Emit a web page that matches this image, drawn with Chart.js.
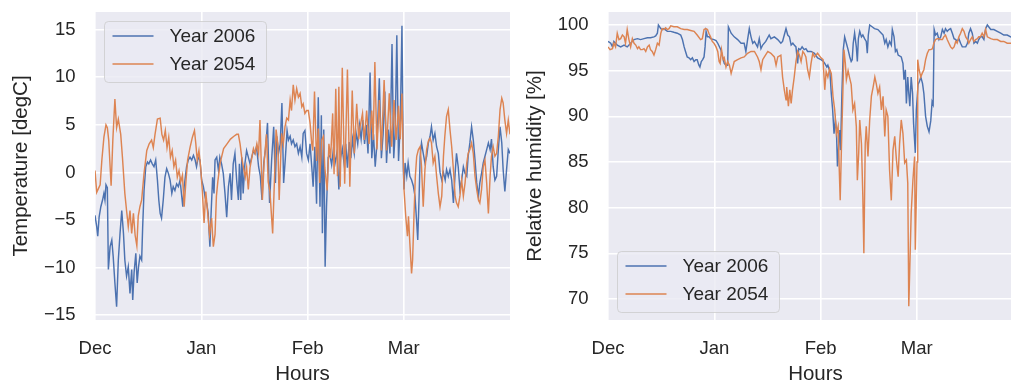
<!DOCTYPE html>
<html>
<head>
<meta charset="utf-8">
<title>Temperature and relative humidity, winter 2006 vs 2054</title>
<script src="https://cdn.jsdelivr.net/npm/chart.js@4.4.1/dist/chart.umd.min.js"></script>
<style>
  html, body { margin: 0; padding: 0; background: #ffffff; }
  body { width: 1011px; height: 385px; overflow: hidden; position: relative; }
  canvas { position: absolute; top: 0; }
  #temp { left: 0; }
  #rh { left: 520px; }
</style>
</head>
<body>
<canvas id="temp" width="520" height="385"></canvas>
<canvas id="rh" width="520" height="385"></canvas>
<script>
// Axis ticks: day offsets from 1 December, and their month labels
const MONTH_DAYS = [0, 31, 62, 90];
const MONTH_LABELS = ['Dec', 'Jan', 'Feb', 'Mar'];
const TEMP_TICKS = [-15, -10, -5, 0, 5, 10, 15];
const RH_TICKS = [70, 75, 80, 85, 90, 95, 100];
const SERIES_LABELS = ['Year 2006', 'Year 2054'];

// Air temperature [degC], [day since 1 Dec, value]
const temp2006 = [
  [0,-4.5],[0.5,-5.7],[0.8,-6.7],[1.2,-4.7],[1.7,-3.6],[2.2,-2.9],[2.6,-2.2],[2.9,-2.9],[3.2,-1.3],[3.6,-1.6],
  [3.9,-10.2],[4.4,-7.8],[4.9,-7.1],[5.3,-8.8],[5.8,-11.6],[6.3,-14.1],[6.8,-9.2],[7.3,-6.4],[7.8,-4],[8.3,-6.4],
  [8.7,-9.2],[9.2,-10.9],[9.7,-9.9],[10.2,-12.7],[10.7,-10.2],[11,-13.4],[11.4,-10.5],[11.9,-8.5],[12.3,-11.6],[12.7,-9.9],
  [13.1,-8.8],[13.6,-9.2],[13.9,-5.7],[14.3,-1.9],[14.8,0.6],[15.3,1.1],[15.7,0.9],[16.2,1.3],[16.7,0.9],[17.2,0.6],
  [17.7,1.3],[18.2,-0.8],[18.6,-2.9],[19,-4.3],[19.4,-4.8],[19.9,-2.9],[20.4,-0.5],[20.9,0.4],[21.4,-0.1],[21.9,-0.8],
  [22.4,-2.2],[22.8,-1.5],[23.3,-1.9],[23.8,-1.2],[24.3,-1.5],[24.8,-0.8],[25.6,-3.6],[26,-1.5],[26.7,0.6],[27.2,1.3],
  [27.7,1.6],[28.2,1.3],[28.7,1.8],[29.2,1.3],[29.6,0.6],[30.1,1.6],[30.6,1.3],[31.1,-0.8],[31.6,-1.5],[32.1,-2.6],
  [32.6,-3.3],[33,-4.3],[33.5,-7.8],[33.8,-4.7],[34.3,-0.5],[34.7,-2.2],[35,1.3],[35.5,1.6],[36,0.2],[36.4,1.6],
  [36.9,0.9],[37.4,-0.1],[37.9,-2.2],[38.4,-4.7],[38.9,-1.5],[39.4,-0.1],[39.8,-2.9],[40.3,0.9],[40.8,2],[41.3,-0.8],
  [41.8,-2.9],[42.1,0.9],[42.5,-2.9],[42.8,1.6],[43.2,-2.2],[43.7,0.9],[44.2,2.3],[44.7,1.6],[45.2,0.9],[45.7,1.6],
  [46.2,2.3],[46.6,2],[47.1,2.7],[47.7,0.6],[48.2,-0.4],[48.7,-2.9],[49.2,1],[49.7,2.4],[50.3,5.2],[50.9,-3.2],
  [51.5,1.3],[52.1,4.8],[52.6,-1.1],[53,3.8],[53.5,2],[54,3],[54.5,7.3],[55,-1.1],[55.5,1.5],[56,4.4],
  [56.4,3.4],[56.9,3.8],[57.3,3],[57.8,3.4],[58.3,2.7],[58.8,3],[59.3,2],[59.8,2.7],[60.3,1.6],[60.7,4.1],
  [61.2,4.4],[61.7,2],[62.2,1.3],[62.7,3],[63.2,0.6],[63.6,-1.5],[64.1,2.7],[64.6,-3.3],[65.1,7.9],[65.6,-3.6],
  [66,6],[66.3,-6.4],[66.7,4.5],[67.1,-9.9],[67.5,-3.6],[68,1.6],[68.5,1.8],[69,0.8],[69.5,2.4],[70,1],
  [70.6,2.2],[71.1,-1.8],[71.6,1.5],[72.1,2.5],[72.6,1],[73.1,3],[73.6,0.5],[74.1,3.2],[74.6,1.5],[75.1,3.5],
  [75.6,2],[76.1,4.2],[76.6,3],[77.1,5],[77.6,3.5],[78.1,5.5],[78.6,3],[79.1,5],[79.6,2],[80.2,10.5],
  [80.7,1.5],[81.2,4],[81.7,0.6],[82.2,3],[82.9,9.9],[83.5,1.5],[84,4],[84.5,8.5],[85,1],[85.5,4.5],
  [86,2],[86.6,13.5],[87.1,1.5],[87.5,4],[88,14.4],[88.5,1.2],[89,5],[89.5,15.4],[89.9,0.5],[90.1,-1.8],
  [90.4,1],[90.9,-0.4],[91.3,1],[91.8,-0.4],[92.3,-0.8],[92.8,-1.4],[93.3,-2.5],[93.8,-5.3],[94.1,-7.1],[94.5,-2.5],
  [94.8,1.7],[95.2,3.1],[95.7,2],[96.2,1],[96.7,1.7],[97.2,3.1],[97.7,3.8],[98.1,4.8],[98.6,3.4],[99.1,4.1],
  [99.6,2.7],[100.1,2],[100.6,0],[101.1,-0.8],[101.6,0],[102.1,-0.8],[102.5,0.3],[103,-0.4],[103.5,0.3],[104,-0.8],
  [104.5,-3.2],[105,-0.1],[105.4,2],[105.9,0.6],[106.4,-1.8],[106.9,-0.8],[107.4,0.6],[107.9,-0.1],[108.4,-0.4],[108.8,1.7],
  [109.3,3.1],[109.8,4.8],[110.3,3.4],[110.8,1.3],[111.3,-1.1],[111.8,-2.5],[112.2,-1.1],[112.7,-0.1],[113.2,1],[113.7,1.7],
  [114.2,2.4],[114.7,3.1],[115.2,2.4],[115.6,3.5],[116.1,0.6],[116.6,-0.8],[117.1,-0.4],[117.6,2.4],[118.1,4.8],[118.6,3.1],
  [119,0.3],[119.5,-2],[120,0.3],[120.5,2.4],[121,2]
];

const temp2054 = [
  [0,0.2],[0.5,-2.1],[1.5,-1.3],[2,1.3],[2.6,3.7],[3.2,5],[3.6,4.7],[4,3.4],[4.7,-1.4],[5.2,3.4],
  [5.8,7.7],[6.3,4.7],[6.8,5.6],[7.5,4],[8,1.6],[8.7,-2.2],[9.2,-4],[9.7,-5.7],[10.2,-4],[10.7,-6.4],
  [11.2,-4.3],[11.7,-6.6],[12.2,-7.7],[12.6,-4.6],[13.1,-3.6],[13.6,-2.9],[14.3,-0.1],[15.1,2.3],[15.8,3],[16.5,3.4],
  [17,2.6],[17.5,4],[18.2,5.6],[19,5.7],[19.5,4],[20,3.4],[20.5,4.4],[21,2.6],[21.5,3.7],[22,1.6],
  [22.5,2.3],[23,0.6],[23.5,1.3],[24,-0.5],[24.5,0.2],[25,-1],[25.5,-0.3],[26,-3.6],[26.5,-1],[27,1.3],
  [27.7,2.6],[28.4,3.7],[29,4.4],[29.4,3],[29.8,1.3],[30.3,2.3],[30.8,0.6],[31.3,-2],[31.8,-5.3],[32.3,-2],
  [32.8,-4],[33.4,-6.5],[34,-4.8],[34.5,-7.8],[35,-6.5],[35.4,-2.5],[35.8,-1],[36.5,1],[37.5,2.5],[38.5,3],
  [39.5,3.5],[40.5,3.8],[41.3,4],[41.8,4],[42.3,3],[42.8,1.5],[43.3,0.5],[43.8,-0.5],[44.2,0.5],[44.7,-1.8],
  [45.2,0.5],[45.7,1.5],[46.2,2.5],[46.7,2],[47.2,3],[47.7,2],[48.1,5.5],[48.8,-2.9],[49.3,1],[50,4],
  [50.5,-1],[51,-2],[51.8,-6.4],[52.3,-1],[52.8,4.5],[53.3,3],[53.7,-2.9],[54.4,4.1],[54.9,3],[55.4,4.8],
  [55.9,5.7],[56.4,5.5],[56.9,7.6],[57.3,6.5],[57.8,9.2],[58.3,7.6],[58.8,8.8],[59.3,7.9],[59.8,8.3],[60.3,6.9],
  [60.7,7.2],[61.2,6.2],[61.7,6.5],[62.2,6.5],[62.7,5.2],[63.2,3],[63.5,2.3],[64,8.5],[64.6,1.2],[65.1,4.6],
  [65.5,-1.1],[66.1,3.4],[66.6,3.8],[67,0.5],[67.7,-1.9],[68.2,3],[68.7,1.5],[69.3,6.2],[69.7,-0.2],[70.2,8.8],
  [70.7,-0.4],[71.1,9],[71.5,-1.5],[72.1,11],[72.8,-1.2],[73.6,10.8],[74.3,-1.5],[75,8.6],[75.6,2],[76.3,7.2],
  [76.9,3.5],[77.3,4.8],[78,6.2],[78.5,3.4],[79.2,6.5],[79.9,3],[80.7,6.5],[81.1,3.4],[81.6,11.6],[82.2,2.4],
  [82.9,7.6],[83.5,2.3],[84.3,9.7],[85,2.3],[85.8,8.3],[86.5,2.7],[87.2,7.6],[87.8,3.4],[88.5,7],[89,3.5],
  [89.5,8.3],[89.8,3],[90.1,-1.8],[90.6,-4.6],[91.1,-6.7],[91.4,-4.6],[91.8,-7.4],[92.3,-10.6],[92.6,-9.2],[93,-4.6],
  [93.4,-0.4],[93.8,1.7],[94.3,2.4],[94.8,2.7],[95.2,0.6],[95.7,-3.6],[96.2,0.3],[96.7,2.4],[97.2,3.3],[97.7,3.6],
  [98.1,3.1],[98.6,1],[99.1,1.7],[99.6,-0.4],[100.1,-2.2],[100.6,-3.6],[101.1,-2.5],[101.6,1.7],[102,3.8],[102.5,5.9],
  [103,6.6],[103.5,4.5],[104,2.7],[104.5,0.3],[105,-2.5],[105.4,-3.2],[105.9,-3.6],[106.4,-2.5],[106.9,-0.8],[107.4,-2.5],
  [107.9,-1.1],[108.4,1],[108.8,2],[109.3,2.4],[109.8,3.1],[110.3,2],[110.8,-0.4],[111.3,-1.8],[111.8,-2.9],[112.2,-3.2],
  [112.7,-1.8],[113.2,0.6],[113.7,1.3],[114.2,-1.1],[114.7,-4.3],[115.2,-0.4],[115.6,1.7],[116.1,2.7],[116.6,1.7],[117.1,2],
  [117.6,3.8],[118.1,6.6],[118.6,7.8],[119,7.3],[119.5,5.5],[120,4.1],[120.5,5.5],[121,4]
];

// Relative humidity [%], [day since 1 Dec, value]
const rh2006 = [
  [0,98.2],[0.8,98],[1.3,97.6],[1.7,98.2],[2.7,97.8],[3.7,97.6],[4.7,97.8],[5.6,97.6],[6.6,98],[7.6,98.4],
  [8.6,98.5],[9.5,98.4],[10.5,98.5],[11.5,98.6],[12.4,98.6],[13.4,98.7],[13.9,98.8],[14.4,99.1],[14.7,100],[15.4,99.6],
  [15.9,99.5],[16.3,99.6],[17.3,99.3],[18.3,99.3],[19.2,99.2],[20.2,99.1],[21.2,98.9],[21.7,98.4],[22.2,97.6],[22.6,97.1],
  [23.1,96.5],[23.6,96.4],[24.1,96.2],[24.6,96.4],[25.1,96],[25.6,96.2],[26,96.2],[26.5,95.6],[26.8,95.4],[27.2,96],
  [27.6,96.2],[28,96.5],[28.3,97.6],[28.6,99.3],[29,98.7],[29.5,98.7],[29.9,98.5],[30.9,98.4],[31.5,98.3],[32,98],
  [32.9,97.3],[33.4,96.5],[33.9,95.8],[34.4,95.6],[34.9,95.6],[35.1,99.8],[35.9,99.1],[36.8,98.7],[37.8,98.4],[38.8,98],
  [39.7,98],[40.2,97.1],[40.7,98.4],[41.2,99.6],[41.7,98.7],[42.2,98],[42.7,98.2],[43.6,97.6],[44.1,98.5],[44.6,97.4],
  [45.1,97.8],[46,98.2],[47,98.9],[47.5,98.5],[48.5,98.7],[49.5,98.4],[50.4,98],[50.9,98.2],[51.4,98.9],[51.9,99.6],
  [52.4,98.9],[52.9,98.7],[53.4,97.8],[53.9,98],[54.3,97.8],[54.8,97.6],[55.3,95.8],[55.6,97.4],[56.1,97.3],[56.6,97.6],
  [57.2,97.3],[57.7,97.4],[58.2,97.1],[59.2,97.1],[60.2,96.9],[61.1,96.4],[62.1,96.2],[62.8,96],[63.2,95.8],[63.8,95.4],
  [64.1,95.6],[64.7,94.9],[65.1,92.5],[65.5,90.7],[65.9,88.1],[66.3,89.6],[66.6,88.5],[66.9,84.5],[67.1,85.6],[67.4,88.1],
  [67.6,88.5],[67.8,86.3],[68.2,92.5],[68.6,97.3],[69,98.7],[69.5,98],[70,97.3],[70.5,96.5],[70.9,96],[71.2,96.2],
  [71.5,98],[71.9,99.1],[72.4,97.6],[72.7,96],[73,98.5],[73.4,99.3],[73.9,98.7],[74.3,98.9],[74.8,98.5],[75.3,98.2],
  [75.6,96.9],[75.9,98.9],[76.3,100],[77,99.8],[77.7,99.6],[78.7,99.5],[79.7,99.1],[80.2,98.9],[80.7,98],[81.1,98.4],
  [81.6,97.6],[82.1,98.2],[82.6,97.8],[82.9,99.5],[83.4,98.7],[83.8,97.1],[84.2,97.3],[84.6,96.7],[85.5,96.5],[86,95.8],
  [86.3,94],[86.7,95.1],[87,91.4],[87.4,94.3],[87.7,92.5],[88,91.1],[88.4,94.3],[88.8,92.5],[89.1,89.2],[89.6,86],
  [89.9,90.7],[90.4,93.5],[90.8,93.8],[91.2,94.3],[91.7,93.6],[92.1,92.5],[92.6,90],[93.1,88.9],[93.6,88.3],[94.1,89.5],
  [94.5,91.6],[94.8,91.3],[95.1,99.5],[95.5,98.9],[96,99.1],[96.5,98.4],[97,98.7],[97.5,99.5],[98,99.1],[98.4,99.6],
  [98.9,99.3],[99.4,99.5],[99.9,99.6],[100.4,99.1],[100.9,98.5],[101.4,98.4],[101.8,98.2],[102.3,98.5],[102.8,98],[103.3,97.6],
  [103.8,97.6],[104.3,97.6],[104.8,98],[105.2,99.1],[105.7,99.6],[106.2,99.1],[106.7,98],[107.2,98.2],[107.7,98],[108.1,98.4],
  [108.6,98.7],[109.1,98.7],[109.6,98.4],[110.1,99.6],[110.6,100],[111.6,99.5],[112.5,99.5],[113.5,99.3],[114.5,99.1],[115.4,98.9],
  [116.4,98.9],[117.4,98.7],[118.4,98.5],[119.4,98.6],[120.4,98.4],[121,98.5]
];

const rh2054 = [
  [0,97.6],[0.6,97.3],[1.3,97.4],[1.7,98],[2.2,97.6],[2.7,99.1],[3.2,98.4],[3.7,98.5],[4.2,98.9],[4.7,98.7],
  [5.1,98],[5.6,99.5],[6.1,98.4],[6.6,97.6],[7.1,98.5],[7.6,98],[8.1,97.8],[8.6,97.4],[9,97.6],[9.5,97.3],
  [10,97.3],[10.5,97.4],[11,97.1],[11.5,97.6],[12,97.8],[12.4,97.3],[12.9,97.1],[13.4,96.7],[13.9,97.3],[14.4,98],
  [14.9,97.8],[15.4,99.1],[15.8,99.6],[16.3,99.5],[16.8,99.7],[17.3,99.5],[17.8,99.6],[18.3,99.9],[19.2,99.8],[20.2,99.8],
  [21.2,99.6],[22.2,99.5],[23.1,99.5],[24.1,99.4],[25.1,99.3],[26,98.9],[27,98.4],[27.5,98.5],[28,99.5],[28.5,99.6],
  [29,99.5],[29.4,99.1],[29.9,98.7],[30.4,98.2],[30.9,98],[31.5,97.6],[32,97.1],[32.4,96],[32.7,95.8],[33.1,97.3],
  [33.6,96.2],[33.9,96.4],[34.4,95.4],[34.9,96],[35.4,95.6],[35.9,94.7],[36.4,95.4],[36.8,96],[37.8,96.2],[38.8,96.4],
  [39.7,96.5],[40.7,96.9],[41.7,97.1],[42.7,97.1],[43.6,96.5],[44.1,96],[44.6,95.1],[45.1,96.2],[45.6,96.5],[46.6,97.1],
  [47.5,96.9],[48.5,96.5],[49,95.6],[49.5,96.5],[50.4,96.7],[50.9,94.3],[51.4,92.9],[51.9,91.8],[52.1,93.2],[52.6,91.1],
  [53,92.9],[53.4,91.4],[53.8,92.9],[54.3,94.3],[54.8,96],[55.3,97.1],[55.8,96.7],[56.3,96],[56.8,97.1],[57.2,96.9],
  [57.7,96.5],[58.2,95.1],[58.7,94.3],[59.2,95.8],[59.7,96.9],[60.2,96.5],[61.1,96.9],[62.1,96.4],[62.7,96.2],[63.2,92.9],
  [63.6,94.9],[64.1,94.3],[64.6,95.2],[65.1,94.7],[65.6,92.2],[66.1,90.7],[66.6,88.1],[67.1,88.9],[67.4,84.5],[67.7,80.8],
  [68,85.6],[68.5,93],[68.8,97.3],[69.2,95.8],[69.5,94],[70,95],[70.4,94.3],[70.9,93.5],[71.4,90.7],[71.9,91.4],
  [72.4,88.9],[72.7,83],[73.1,86],[73.4,89.6],[73.9,87],[74.3,81.2],[74.6,75],[75,87],[75.3,88.9],[75.8,85.6],
  [76.3,89.6],[76.8,92.2],[77.3,93.2],[77.8,94.3],[78.2,93.6],[78.7,92.5],[79.2,93.2],[79.7,90.7],[80.2,92.2],[80.7,87.8],
  [81.1,90.7],[81.6,90],[82.1,84.1],[82.6,80.8],[83.1,86.3],[83.6,87.8],[84.1,85.2],[84.6,83.4],[85,86.9],[85.5,89.6],
  [86,88.1],[86.5,84.9],[87,85.2],[87.4,82.7],[87.7,69.2],[88.4,79.4],[88.9,83],[89.4,85.6],[89.6,75.4],[90.1,85],
  [90.3,96.2],[90.7,95.1],[91.2,94.3],[91.6,94.7],[92.1,95.1],[92.6,96.2],[93.1,96.9],[93.6,97.3],[94.1,97.3],[94.6,97.4],
  [95,98],[95.5,98.4],[96,98.5],[96.5,98.5],[97,98.4],[97.5,98.4],[97.9,98.7],[98.4,98.9],[98.9,98.4],[99.4,98],
  [99.9,97.6],[100.4,97.4],[100.9,97.6],[101.4,98.2],[101.8,98],[102.3,98.7],[102.8,99.1],[103.3,99.6],[103.8,99.3],[104.3,98.7],
  [104.8,98.4],[105.2,98],[105.7,98.4],[106.2,98.7],[106.7,98.2],[107.2,98.4],[107.7,98.5],[108.1,98.7],[108.6,98.7],[109.1,99.1],
  [109.6,98.7],[110.1,99.5],[110.6,98.7],[111.6,98.5],[112.5,98.4],[113.5,98.4],[114.5,98.2],[115.4,98.2],[116.4,98],[117.4,98],
  [118.4,98],[119.4,97.9],[120.4,97.9],[121,98]
];

// ---- styling ----
const FONT = '"Liberation Sans", Arial, Helvetica, sans-serif';
const INK = '#262626';
const BLUE = '#4C72B0';
const ORANGE = '#DD8452';
const PANEL = '#EAEAF2';

const toPoints = pairs => pairs.map(([x, y]) => ({ x, y }));
const minusSign = v => (v < 0 ? '\u2212' + Math.abs(v) : String(v));

// grey panel behind the grid
const panelBackground = {
  id: 'panelBackground',
  beforeDraw(chart) {
    const { ctx, chartArea: a } = chart;
    ctx.save();
    ctx.fillStyle = PANEL;
    ctx.fillRect(a.left, a.top, a.right - a.left, a.bottom - a.top);
    ctx.restore();
  }
};

// framed legend drawn inside the plot area
function roundedRect(ctx, x, y, w, h, r) {
  ctx.beginPath();
  ctx.moveTo(x + r, y);
  ctx.lineTo(x + w - r, y);
  ctx.arcTo(x + w, y, x + w, y + r, r);
  ctx.lineTo(x + w, y + h - r);
  ctx.arcTo(x + w, y + h, x + w - r, y + h, r);
  ctx.lineTo(x + r, y + h);
  ctx.arcTo(x, y + h, x, y + h - r, r);
  ctx.lineTo(x, y + r);
  ctx.arcTo(x, y, x + r, y, r);
  ctx.closePath();
}

const framedLegend = {
  id: 'framedLegend',
  afterDatasetsDraw(chart, args, o) {
    const { ctx, chartArea: a } = chart;
    const x = Math.round(a.left + o.inset) + 0.5;
    const y = Math.round(o.corner === 'top' ? a.top + o.inset : a.bottom - o.inset - o.height) + 0.5;
    ctx.save();
    roundedRect(ctx, x, y, o.width, o.height, 4);
    ctx.fillStyle = 'rgba(234,234,242,0.8)';
    ctx.fill();
    ctx.strokeStyle = 'rgba(204,204,204,0.8)';
    ctx.lineWidth = 1;
    ctx.stroke();
    ctx.font = '19px ' + FONT;
    ctx.textBaseline = 'middle';
    ctx.textAlign = 'left';
    chart.data.datasets.forEach((ds, i) => {
      const ly = y + o.firstRow + i * o.rowGap;
      ctx.strokeStyle = ds.borderColor;
      ctx.lineWidth = 1.3;
      ctx.beginPath();
      ctx.moveTo(x + 8, ly);
      ctx.lineTo(x + 49, ly);
      ctx.stroke();
      ctx.fillStyle = INK;
      ctx.fillText(ds.label, x + 65, ly + 1);
    });
    ctx.restore();
  }
};

function buildChart(id, series, yTicks, yMin, yMax, yTitle, opt) {
  return new Chart(document.getElementById(id), {
    type: 'line',
    data: {
      datasets: series.map((s, i) => ({
        label: SERIES_LABELS[i],
        data: toPoints(s),
        borderColor: i === 0 ? BLUE : ORANGE,
        borderWidth: 1.45,
        pointRadius: 0,
        tension: 0,
        order: i === 0 ? 2 : 1
      }))
    },
    options: {
      responsive: false,
      animation: false,
      devicePixelRatio: 1,
      events: [],
      layout: { padding: { top: 12, right: opt.padRight, bottom: 0, left: 0 } },
      scales: {
        x: {
          type: 'linear',
          min: 0,
          max: 121,
          afterBuildTicks: s => { s.ticks = MONTH_DAYS.map(v => ({ value: v })); },
          afterFit: s => { s.height = 65; s.paddingLeft = 0; s.paddingRight = 0; },
          ticks: {
            autoSkip: false,
            maxRotation: 0,
            padding: 17.4,
            color: INK,
            font: { family: FONT, size: 18.5 },
            callback: (v, i) => MONTH_LABELS[i]
          },
          grid: { color: '#ffffff', lineWidth: 1.6, drawTicks: false },
          border: { display: false },
          title: {
            display: true,
            text: 'Hours',
            color: INK,
            font: { family: FONT, size: 20.5, lineHeight: 1 },
            padding: { top: 0, bottom: 0.3 }
          }
        },
        y: {
          type: 'linear',
          min: yMin,
          max: yMax,
          afterBuildTicks: s => { s.ticks = yTicks.map(v => ({ value: v })); },
          afterFit: s => { s.width = opt.yWidth; s.paddingTop = 0; s.paddingBottom = 0; },
          ticks: {
            padding: 19.5,
            color: INK,
            font: { family: FONT, size: 18.5 },
            callback: v => minusSign(v)
          },
          grid: { color: '#ffffff', lineWidth: 1.6, drawTicks: false },
          border: { display: false },
          title: {
            display: true,
            text: yTitle,
            color: INK,
            font: { family: FONT, size: 20.5 },
            padding: { top: opt.titlePad, bottom: 0 }
          }
        }
      },
      plugins: {
        legend: { display: false },
        tooltip: { enabled: false },
        framedLegend: opt.legend
      }
    },
    plugins: [panelBackground, framedLegend]
  });
}

buildChart('temp', [temp2006, temp2054], TEMP_TICKS, -15.5, 16.85, 'Temperature [degC]', {
  padRight: 10, yWidth: 95, titlePad: 8.7,
  legend: { corner: 'top', inset: 8.5, width: 162, height: 61, firstRow: 14.5, rowGap: 28 }
});

buildChart('rh', [rh2006, rh2054], RH_TICKS, 67.7, 101.42, 'Relative humidity [%]', {
  padRight: 17, yWidth: 88, titlePad: 3,
  legend: { corner: 'bottom', inset: 8.5, width: 162, height: 61, firstRow: 14.5, rowGap: 28 }
});
</script>
</body>
</html>
